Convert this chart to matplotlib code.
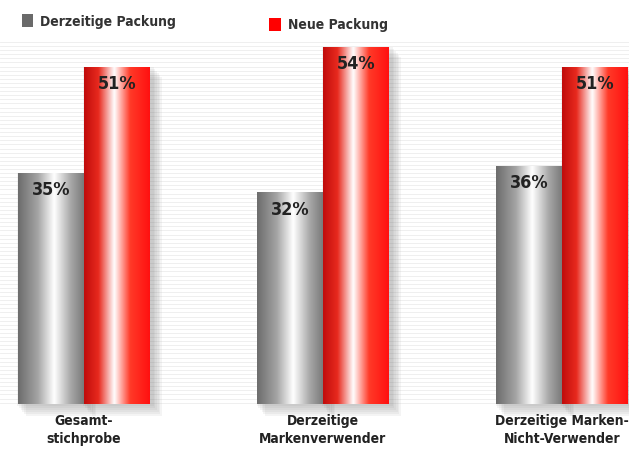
import numpy as np
import matplotlib
matplotlib.use("Agg")
import matplotlib.pyplot as plt
from matplotlib.colors import LinearSegmentedColormap
from matplotlib.patches import Rectangle
from matplotlib import font_manager

categories = ["Gesamt-\nstichprobe", "Derzeitige\nMarkenverwender", "Derzeitige Marken-\nNicht-Verwender"]
series_names = ["Derzeitige Packung", "Neue Packung"]
derzeitig = [35, 32, 36]
neu = [51, 54, 51]

names = {f.name for f in font_manager.fontManager.ttflist}
cond = "DejaVu Sans Condensed" if "DejaVu Sans Condensed" in names else "DejaVu Sans"
plt.rcParams["font.family"] = [cond, "DejaVu Sans"]
plt.rcParams["font.stretch"] = "condensed"

gray_cmap = LinearSegmentedColormap.from_list(
    "metal_gray", [(0, "#6c6c6c"), (0.3, "#a4a4a4"), (0.55, "#ffffff"), (0.8, "#a8a8a8"), (1, "#7a7a7a")])
red_cmap = LinearSegmentedColormap.from_list(
    "metal_red", [(0, "#c00c0c"), (0.22, "#e82a1e"), (0.46, "#ffffff"), (0.7, "#ff3a28"), (1, "#ff1010")])

fig = plt.figure(figsize=(6.29, 4.52), dpi=100)
ax = fig.add_axes([0, 47 / 452, 1, 365 / 452])
ax.set_xlim(-0.351, 2.28)
ax.set_ylim(0, 55.2)
ax.axis("off")

# faint striped backdrop
for yy in np.arange(0.2, 55.0, 0.62):
    ax.axhline(yy, color="#ececec", lw=0.6, zorder=0)

x = np.arange(len(categories))
w = 0.275
grad = np.linspace(0, 1, 256).reshape(1, -1)


def metal_bars(xs, vals, cmap):
    bars = ax.bar(xs, vals, width=w, color="none", edgecolor="none", zorder=3)
    for b in bars:
        x0, y0 = b.get_x(), b.get_y()
        bw, bh = b.get_width(), b.get_height()
        im = ax.imshow(grad, cmap=cmap, aspect="auto", extent=[x0, x0 + bw, y0, y0 + bh],
                       zorder=2, interpolation="bicubic")
        im.set_clip_path(b)
    return bars


# soft shadows below and right of each pair
for xi, hg, hr in zip(x, derzeitig, neu):
    for k in range(6):
        off = 0.007 * (k + 1)
        for x0, h in ((xi - w, hg), (xi, hr)):
            ax.add_patch(Rectangle((x0 - 0.01 + off, -0.3 - k * 0.3), w + 0.02, h + 0.3,
                                   color="#707070", alpha=0.07, lw=0, zorder=1, clip_on=False))
ax.set_ylim(0, 55.2)

g_bars = metal_bars(x - w / 2, derzeitig, gray_cmap)
r_bars = metal_bars(x + w / 2, neu, red_cmap)

for bars, vals in ((g_bars, derzeitig), (r_bars, neu)):
    for b, v in zip(bars, vals):
        ax.text(b.get_x() + b.get_width() / 2, v - 2.5, f"{v}%", ha="center", va="center",
                fontsize=13, fontweight="bold", color="#222222", zorder=5)

for xi, c in zip(x, categories):
    fig.text((xi + 0.351) / 2.631, 22 / 452, c, ha="center", va="center", fontsize=10,
             fontweight="bold", color="#222222", linespacing=1.35)

# legend
fig.patches.append(Rectangle((22 / 629, 1 - 28 / 452), 11 / 629, 13 / 452, transform=fig.transFigure,
                             color="#6a6a6a", lw=0))
fig.text(40 / 629, 1 - 22 / 452, series_names[0], ha="left", va="center", fontsize=10,
         fontweight="bold", color="#333333")
fig.patches.append(Rectangle((269 / 629, 1 - 32 / 452), 12 / 629, 13 / 452, transform=fig.transFigure,
                             color="#ff0000", lw=0))
fig.text(288 / 629, 1 - 25 / 452, series_names[1], ha="left", va="center", fontsize=10,
         fontweight="bold", color="#333333")

fig.savefig("out.png", dpi=100)
